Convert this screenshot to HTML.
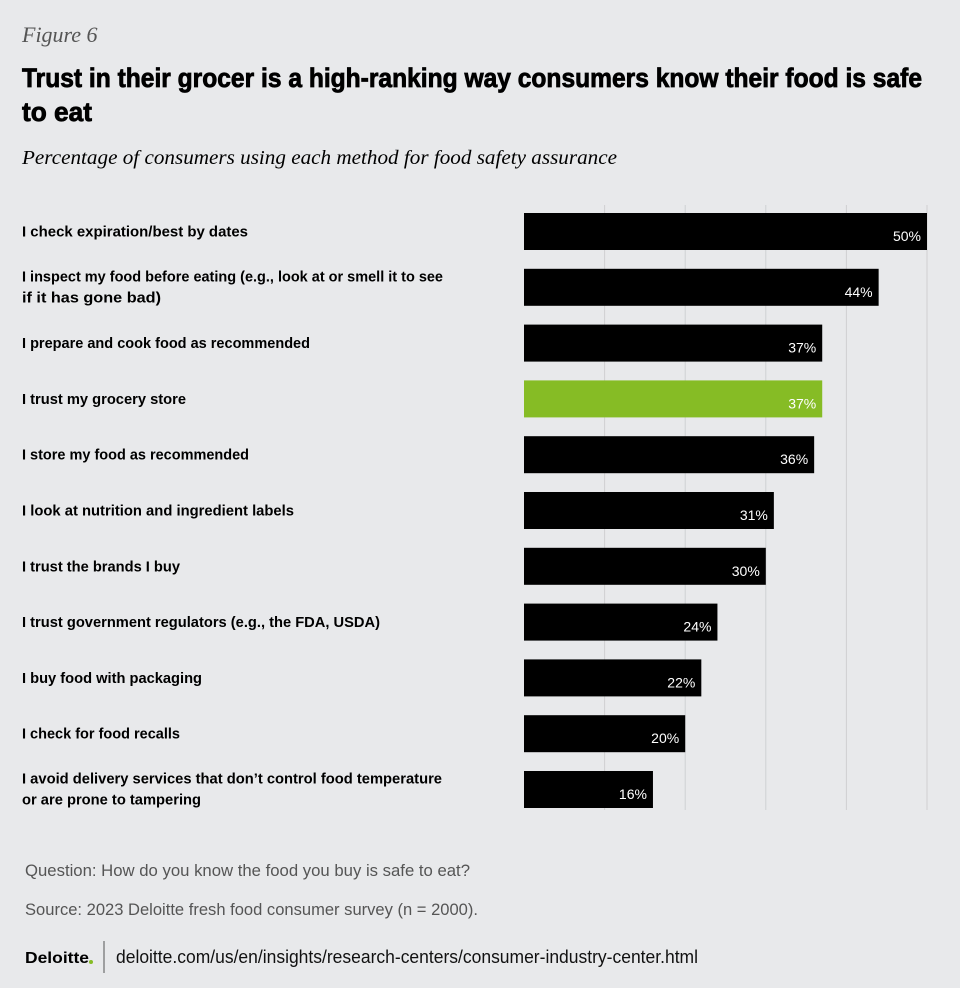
<!DOCTYPE html>
<html><head><meta charset="utf-8"><style>
body{margin:0;background:#e8e9eb}
svg{display:block}
</style></head><body>
<svg id="c" width="960" height="988" xmlns="http://www.w3.org/2000/svg">
<rect width="960" height="988" fill="#e8e9eb"/>
<text x="22" y="42" font-family="Liberation Serif" font-style="italic" font-size="22" fill="#555">Figure 6</text>
<text x="22" y="87" font-family="Liberation Sans" font-weight="bold" font-size="27" fill="#000" stroke="#000" stroke-width="0.8" textLength="900" lengthAdjust="spacingAndGlyphs">Trust in their grocer is a high-ranking way consumers know their food is safe</text>
<text x="22" y="121" font-family="Liberation Sans" font-weight="bold" font-size="27" fill="#000" stroke="#000" stroke-width="0.8" textLength="70" lengthAdjust="spacingAndGlyphs">to eat</text>
<text x="22" y="164" font-family="Liberation Serif" font-style="italic" font-size="20" fill="#000" textLength="595" lengthAdjust="spacingAndGlyphs">Percentage of consumers using each method for food safety assurance</text>
<g id="grid"></g><g id="bars"></g><g id="labels"></g>
<text x="25" y="876" font-family="Liberation Sans" font-size="17" fill="#555" textLength="445" lengthAdjust="spacingAndGlyphs">Question: How do you know the food you buy is safe to eat?</text>
<text x="25" y="915" font-family="Liberation Sans" font-size="17" fill="#555" textLength="453" lengthAdjust="spacingAndGlyphs">Source: 2023 Deloitte fresh food consumer survey (n = 2000).</text>
<text x="25" y="963" font-family="Liberation Sans" font-weight="bold" font-size="16" fill="#000" textLength="64" lengthAdjust="spacingAndGlyphs">Deloitte</text>
<circle cx="91" cy="962" r="2" fill="#86bc25"/>
<line x1="104" y1="941" x2="104" y2="973" stroke="#555" stroke-width="1"/>
<text x="116" y="963" font-family="Liberation Sans" font-size="18" fill="#111" textLength="582" lengthAdjust="spacingAndGlyphs">deloitte.com/us/en/insights/research-centers/consumer-industry-center.html</text>
</svg>
<script>
const categories=[["I check expiration/best by dates"],["I inspect my food before eating (e.g., look at or smell it to see","if it has gone bad)"],["I prepare and cook food as recommended"],["I trust my grocery store"],["I store my food as recommended"],["I look at nutrition and ingredient labels"],["I trust the brands I buy"],["I trust government regulators (e.g., the FDA, USDA)"],["I buy food with packaging"],["I check for food recalls"],["I avoid delivery services that don\u2019t control food temperature","or are prone to tampering"]];
const values=[50,44,37,37,36,31,30,24,22,20,16];
const highlight=[false,false,false,true,false,false,false,false,false,false,false];
const gridTicks=[10,20,30,40,50];
const labelWidths=[[226],[421,139],[288],[164],[227],[272],[158],[358],[180],[158],[420,179]];
const NS="http://www.w3.org/2000/svg";
const x0=524,pxPer=8.06,top0=213,step=55.8,bh=37;
const xs=v=>x0+v*pxPer, ys=i=>top0+i*step;
function mk(t,a,p){const e=document.createElementNS(NS,t);for(const k in a)e.setAttribute(k,a[k]);p.appendChild(e);return e;}
const G=document.getElementById('grid'),B=document.getElementById('bars'),L=document.getElementById('labels');
gridTicks.forEach(t=>{const l=mk('line',{x1:xs(t),x2:xs(t),y1:205,y2:810,stroke:'#cfd0d2','stroke-width':1},G);

});
values.forEach((v,i)=>{const y=ys(i);
const r=mk('rect',{x:x0,y:y,width:xs(v)-x0,height:bh,fill:highlight[i]?'#86bc25':'#000'},B);


const t=mk('text',{x:xs(v)-6,y:y+bh/2+17/2+1,'text-anchor':'end','font-family':'Liberation Sans','font-size':14,fill:'#fff'},B);
t.textContent=v+'%';


const lines=categories[i];const cy=y+bh/2;
lines.forEach((s,j)=>{const ly=lines.length==1?cy+5:cy-6+j*21;
const w=(labelWidths[i]&&labelWidths[i][j])||Math.round(s.length*6.95);
const lt=mk('text',{x:22,y:ly,'font-family':'Liberation Sans','font-weight':'bold','font-size':15,fill:'#000',textLength:w,lengthAdjust:'spacingAndGlyphs'},L);
lt.textContent=s;

});
});
</script>
</body></html>
